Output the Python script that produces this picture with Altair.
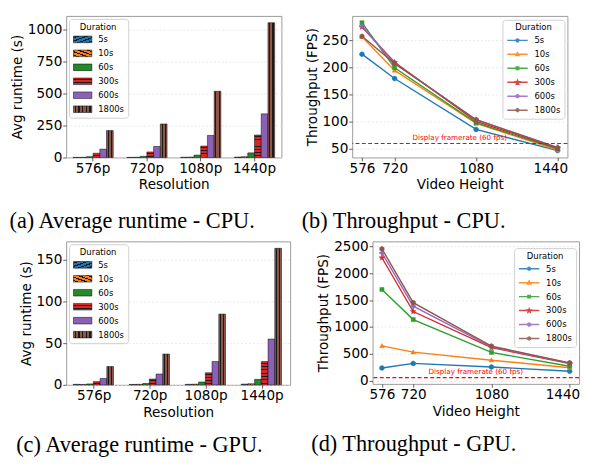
import json
import math
import altair as alt
import pandas as pd

# ---------------- data ----------------
durations = ["5s", "10s", "60s", "300s", "600s", "1800s"]
resolutions = ["576p", "720p", "1080p", "1440p"]
heights = [576, 720, 1080, 1440]
colors = ["#1f77b4", "#ff7f0e", "#2ca02c", "#d62728", "#9467bd", "#8c564b"]

cpu_runtime_5s = [0.7, 0.8, 1.7, 3.2]
cpu_runtime_10s = [1.2, 1.5, 3.1, 6.2]
cpu_runtime_60s = [6.4, 9.0, 18.4, 36]
cpu_runtime_300s = [33, 43, 89, 175]
cpu_runtime_600s = [65, 86, 172, 340]
cpu_runtime_1800s = [210, 261, 516, 1050]

gpu_runtime_5s = [0.6, 0.5, 0.6, 0.9]
gpu_runtime_10s = [0.5, 0.6, 0.8, 1.3]
gpu_runtime_60s = [1.1, 1.6, 3.4, 6.6]
gpu_runtime_300s = [3.9, 7.0, 14.5, 28]
gpu_runtime_600s = [7.6, 13, 28, 55]
gpu_runtime_1800s = [22, 37, 85, 164]

cpu_fps_5s = [225, 180, 86, 47]
cpu_fps_10s = [257, 195, 97, 48]
cpu_fps_60s = [283, 200, 98, 50]
cpu_fps_300s = [275, 210, 101, 51]
cpu_fps_600s = [277, 208, 104, 53]
cpu_fps_1800s = [258, 208, 104, 52]

gpu_fps_5s = [240, 325, 258, 180]
gpu_fps_10s = [650, 535, 385, 245]
gpu_fps_60s = [1700, 1140, 530, 272]
gpu_fps_300s = [2290, 1290, 620, 320]
gpu_fps_600s = [2380, 1390, 635, 330]
gpu_fps_1800s = [2455, 1455, 648, 335]

display_fps = 60
display_label = "Display framerate (60 fps)"

cpu_runtime = [cpu_runtime_5s, cpu_runtime_10s, cpu_runtime_60s,
               cpu_runtime_300s, cpu_runtime_600s, cpu_runtime_1800s]
gpu_runtime = [gpu_runtime_5s, gpu_runtime_10s, gpu_runtime_60s,
               gpu_runtime_300s, gpu_runtime_600s, gpu_runtime_1800s]
cpu_fps = [cpu_fps_5s, cpu_fps_10s, cpu_fps_60s, cpu_fps_300s, cpu_fps_600s, cpu_fps_1800s]
gpu_fps = [gpu_fps_5s, gpu_fps_10s, gpu_fps_60s, gpu_fps_300s, gpu_fps_600s, gpu_fps_1800s]

FONT = "DejaVu Sans"
LEG_FS = 8.7
CAP_FS = 23


# ---------------- helpers (styling) ----------------
def grad(base, n, w, kind, line="#1a1a1a"):
    x1, y1, x2, y2 = {"v": (0, 0, 1, 0), "h": (0, 0, 0, 1),
                      "d1": (0, 0, 1, 1), "d2": (0, 1, 1, 0)}[kind]
    stops = [{"offset": 0, "color": base}]
    for i in range(n):
        c = (i + 0.5) / n
        a = round(max(0.0, c - w / 2), 4)
        b = round(min(1.0, c + w / 2), 4)
        stops += [{"offset": a, "color": base}, {"offset": a, "color": line},
                  {"offset": b, "color": line}, {"offset": b, "color": base}]
    stops.append({"offset": 1, "color": base})
    return {"gradient": "linear", "x1": x1, "y1": y1, "x2": x2, "y2": y2, "stops": stops}


legend_fills = [
    alt.ExprRef(expr=json.dumps(grad(colors[0], 4, 0.09, "d1"))),
    alt.ExprRef(expr=json.dumps(grad(colors[1], 4, 0.09, "d2"))),
    "#23892a",
    alt.ExprRef(expr=json.dumps(grad(colors[3], 2, 0.16, "h"))),
    "#8a61b6",
    alt.ExprRef(expr=json.dumps(grad(colors[5], 5, 0.06, "v"))),
]


def legend_common(**kw):
    base = dict(title="Duration", titleFontSize=LEG_FS, labelFontSize=LEG_FS,
                titleFont=FONT, labelFont=FONT, titleFontWeight="normal",
                titleColor="black", labelColor="black", titleAnchor="middle",
                fillColor="rgba(255,255,255,0.85)", strokeColor="#d0d0d0",
                cornerRadius=3, padding=4, clipHeight=9, rowPadding=4.4,
                titlePadding=4, labelOffset=6)
    base.update(kw)
    return alt.Legend(**base)


def caption_title(text, dx, off):
    return alt.TitleParams(text=text, orient="bottom", anchor="middle",
                           dx=dx, offset=off, baseline="top",
                           font="Liberation Serif", fontSize=CAP_FS,
                           fontWeight="normal", color="black")


def bar_panel(values, ymax, yticks, width, height, caption, cap_dx, cap_off):
    rows = []
    for d, vals in zip(durations, values):
        for r, v in zip(resolutions, vals):
            rows.append({"res": r, "dur": d, "val": v})
    df = pd.DataFrame(rows)

    conds = [{"test": "datum.dur === '1800s'",
              "value": grad(colors[5], 2, 0.15, "v")}]
    for r, v in zip(resolutions, values[3]):
        hpx = v / ymax * height
        n = max(1, int(round(hpx / 3.3)))
        w = min(0.45, 0.9 / max(hpx, 0.5))
        conds.append({"test": f"datum.dur === '300s' && datum.res === '{r}'",
                      "value": grad(colors[3], n, w, "h")})

    bars = alt.Chart(df).mark_bar(stroke="black", strokeWidth=0.5).encode(
        x=alt.X("res:N", sort=resolutions,
                scale=alt.Scale(paddingInner=0.25, paddingOuter=0.125),
                axis=alt.Axis(title="Resolution", labelAngle=0, grid=False)),
        xOffset=alt.XOffset("dur:N", sort=durations,
                            scale=alt.Scale(domain=durations, paddingInner=0, paddingOuter=0)),
        y=alt.Y("val:Q", scale=alt.Scale(domain=[0, ymax], nice=False, zero=True),
                axis=alt.Axis(title="Avg runtime (s)", values=yticks, format="d")),
        fill=alt.Fill("dur:N", sort=durations,
                      scale=alt.Scale(domain=durations, range=legend_fills),
                      legend=legend_common(orient="top-left", offset=3,
                                           symbolType="M-1,-0.36H1V0.36H-1Z",
                                           symbolSize=361, symbolStrokeColor="black",
                                           symbolStrokeWidth=0.5),
                      condition=conds),
    )
    return bars.properties(width=width, height=height,
                           title=caption_title(caption, cap_dx, cap_off))


def circle_path(r, cx=0.0):
    return (f"M{cx + r:.3f},0A{r:.3f},{r:.3f},0,1,1,{cx - r:.3f},0"
            f"A{r:.3f},{r:.3f},0,1,1,{cx + r:.3f},0Z")


def poly_path(pts, s):
    return "M" + "L".join(f"{x * s:.3f},{y * s:.3f}" for x, y in pts) + "Z"


tri = [(0, -1), (1, 0.75), (-1, 0.75)]
sq = [(-0.85, -0.85), (0.85, -0.85), (0.85, 0.85), (-0.85, 0.85)]
star = []
for i in range(10):
    ang = -math.pi / 2 + i * math.pi / 5
    rr = 1.0 if i % 2 == 0 else 0.42
    star.append((rr * math.cos(ang), rr * math.sin(ang)))
plus = [(-0.33, -1), (0.33, -1), (0.33, -0.33), (1, -0.33), (1, 0.33), (0.33, 0.33),
        (0.33, 1), (-0.33, 1), (-0.33, 0.33), (-1, 0.33), (-1, -0.33), (-0.33, -0.33)]
hexa = [(0, -1), (0.87, -0.5), (0.87, 0.5), (0, 1), (-0.87, 0.5), (-0.87, -0.5)]

marker_paths = [circle_path(1.0), poly_path(tri, 1), poly_path(sq, 1),
                poly_path(star, 1.25), poly_path(plus, 1), poly_path(hexa, 1.05)]
LS = 0.14
legend_paths = ["M-1,0H1" + circle_path(LS), "M-1,0H1" + poly_path(tri, LS * 1.2),
                "M-1,0H1" + poly_path(sq, LS), "M-1,0H1" + poly_path(star, LS * 1.3),
                "M-1,0H1" + poly_path(plus, LS), "M-1,0H1" + poly_path(hexa, LS * 1.05)]


def line_panel(values, ydom, yticks, width, height, caption, cap_dx, cap_off, lx, ly):
    rows = []
    for d, vals in zip(durations, values):
        for h, v in zip(heights, vals):
            rows.append({"h": h, "dur": d, "val": v})
    df = pd.DataFrame(rows)
    xdom = [532.8, 1483.2]
    xs = alt.Scale(domain=xdom, nice=False, zero=False)
    ys = alt.Scale(domain=ydom, nice=False, zero=False)
    xa = alt.Axis(title="Video Height", values=heights, grid=False, format="d",
                  labelOffset={"condition": {"test": f"datum.value === {heights[-1]}",
                                             "value": -7.5}, "value": 0})
    ya = alt.Axis(title="Throughput (FPS)", values=yticks, format="d")
    X = alt.X("h:Q", scale=xs, axis=xa)
    Y = alt.Y("val:Q", scale=ys, axis=ya)
    cscale = alt.Scale(domain=durations, range=colors)
    leg = legend_common(orient="none", legendX=lx, legendY=ly, symbolSize=441,
                        symbolStrokeWidth=1.5, labelOffset=6)

    # legend-carrying layer (points placed outside the clipped view)
    legdf = pd.DataFrame({"dur": durations, "h": [0] * 6, "val": [-1e6] * 6})
    leglayer = alt.Chart(legdf).mark_point(filled=False, clip=True, opacity=0.85,
                                           strokeWidth=1.5).encode(
        x=X, y=Y,
        color=alt.Color("dur:N", sort=durations, scale=cscale, legend=leg),
        shape=alt.Shape("dur:N", sort=durations,
                        scale=alt.Scale(domain=durations, range=legend_paths), legend=leg),
    )
    layers = [leglayer]
    for d, c in zip(durations, colors):
        layers.append(
            alt.Chart(df).transform_filter(alt.datum.dur == d)
            .mark_line(strokeWidth=1.4, color=c).encode(x=X, y=Y)
        )
    for d, c, p in zip(durations, colors, marker_paths):
        layers.append(
            alt.Chart(df).transform_filter(alt.datum.dur == d)
            .mark_point(filled=True, shape=p, size=26, color=c, opacity=1,
                        stroke=c, strokeWidth=0.4)
            .encode(x=X, y=Y)
        )
    rule = alt.Chart(pd.DataFrame({"val": [display_fps]})).mark_rule(
        color="#ff0000", strokeDash=[4, 2.5], strokeWidth=1.2
    ).encode(y=Y)
    txt = alt.Chart(pd.DataFrame({"h": [(heights[0] + heights[-1]) / 2], "val": [display_fps],
                                  "t": [display_label]})).mark_text(
        color="#ff0000", fontSize=7.4, font=FONT, baseline="bottom", dy=-1.5
    ).encode(x=X, y=Y, text="t:N")
    layers += [rule, txt]

    return alt.layer(*layers).properties(width=width, height=height,
                                         title=caption_title(caption, cap_dx, cap_off))


pa = bar_panel(cpu_runtime, 1103, [0, 250, 500, 750, 1000], 222, 146,
               "(a) Average runtime - CPU.", -43, 19)
pb = line_panel(cpu_fps, [34.2, 295.6], [50, 100, 150, 200, 250], 222, 146,
                "(b) Throughput - CPU.", -58, 19, 155, 4)
pc = bar_panel(gpu_runtime, 172.4, [0, 50, 100, 150], 231, 148,
               "(c) Average runtime - GPU.", -40, 16)
pd_ = line_panel(gpu_fps, [-55, 2595], [0, 500, 1000, 1500, 2000, 2500], 213, 147,
                 "(d) Throughput - GPU.", -64, 16, 146, 7)

IND = dict(fill="independent", shape="independent", color="independent")

row1 = alt.hconcat(pa, pb, spacing=19).resolve_scale(**IND)
row2 = alt.hconcat(pc, pd_, spacing=19).resolve_scale(**IND)

PAD = {"left": 0, "top": 0, "right": 0, "bottom": 0}
chart = alt.vconcat(row1, row2, spacing=5.5).resolve_scale(**IND).properties(
    padding=PAD
).configure(
    padding=PAD
).configure_axis(
    labelFont=FONT, titleFont=FONT, labelFontSize=14, titleFontSize=14,
    titleFontWeight="normal", labelColor="black", titleColor="black",
    tickColor="#333333", tickSize=3.5, tickWidth=0.8, domain=False,
    gridColor="#e3e3e3", gridDash=[2, 2], gridWidth=0.8,
    labelPadding=1, titlePadding=3,
).configure_view(stroke="#9a9a9a", strokeWidth=1)

chart.save("out.html", embed_options={"renderer": "svg", "actions": False})
